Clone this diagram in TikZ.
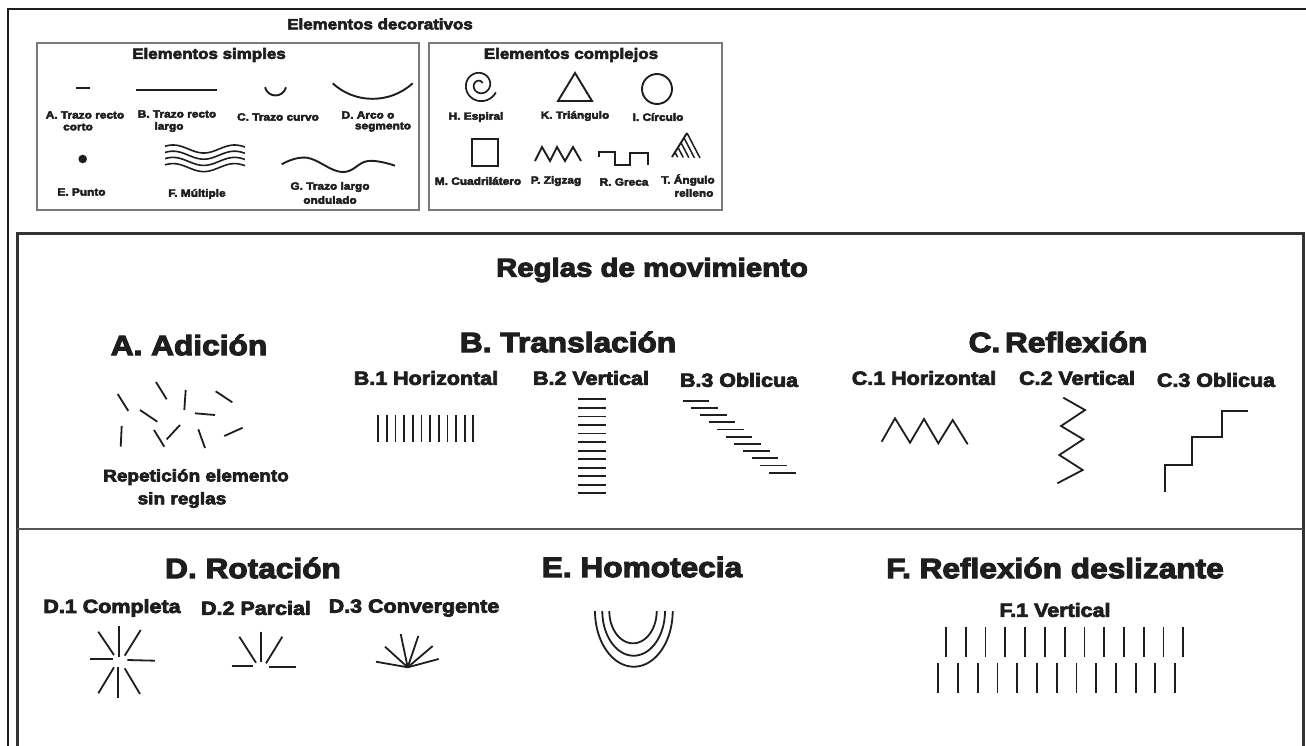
\documentclass[tikz,border=0pt]{standalone}
\usepackage{fontspec}
\newfontfamily\hb{Liberation Sans Bold}[FakeStretch=1.13,FakeBold=4]
\definecolor{ink}{HTML}{1E1E1E}
\definecolor{boxgray}{HTML}{7A7A7A}
\definecolor{framegray}{HTML}{333333}
\tikzset{
  sm/.style={font={\hb\fontsize{10.5}{12}\selectfont}, inner sep=0pt, text=ink},
  ttl/.style={font={\hb\fontsize{15}{17}\selectfont}, inner sep=0pt, text=ink},
  hd/.style={font={\hb\fontsize{28}{32}\selectfont}, inner sep=0pt, text=ink},
  sub/.style={font={\hb\fontsize{19}{22}\selectfont}, inner sep=0pt, text=ink},
  rep/.style={font={\hb\fontsize{16.8}{20}\selectfont}, inner sep=0pt, text=ink},
  stroke/.style={draw=ink, line width=1.9pt},
  fine/.style={draw=ink, line width=1.8pt},
  boxline/.style={draw=boxgray, line width=1.6pt},
}
\begin{document}
\begin{tikzpicture}[x=1pt,y=-1pt]
\useasboundingbox (0,0) rectangle (1306,745);
\fill[white] (0,0) rectangle (1306,745);
% outer frame
\draw[ink, line width=1.5pt] (8,760) -- (8,9) -- (1320,9);
% top boxes
\draw[boxline] (37,43) rectangle (419,210);
\draw[boxline] (429,43) rectangle (722,210);
\node[ttl] (tdec) at (380,24) {Elementos decorativos};
\node[ttl] (tsim) at (209,55) {Elementos simples};
\node[ttl] (tcom) at (571,55) {Elementos complejos};
% simple elements
\draw[stroke] (76,88.3) -- (90,88.3);
\draw[stroke] (136,90) -- (217.3,90);
\draw[stroke] (265,87.3) .. controls (268,98.2) and (283,98.2) .. (286,87.3);
\draw[stroke] (332.7,83.3) .. controls (355,104) and (390,104) .. (412.7,83.3);
\fill[ink] (82.7,159) circle[radius=4.3pt];
\foreach \k in {0,1,2,3}{
  \draw[stroke, line width=1.6pt] plot[domain=0:1, samples=50, variable=\t] ({165+80*\t},{149+6.2*\k-4*cos(360*(\t-0.1)*1.3)});
}
\draw[stroke] plot[smooth, tension=0.7] coordinates {(281.7,164.3) (306.7,157.7) (342,172) (368,161) (395,165.7)};
\node[sm] (la1) at (85,115) {A. Trazo recto};
\node[sm] (la2) at (78,127) {corto};
\node[sm] (lb1) at (177,114) {B. Trazo recto};
\node[sm] (lb2) at (169,127) {largo};
\node[sm] (lc) at (278,117) {C. Trazo curvo};
\node[sm] (ld1) at (368,115) {D. Arco o};
\node[sm] (ld2) at (383,127) {segmento};
\node[sm] (le) at (81.5,192) {E. Punto};
\node[sm] (lf) at (197,194) {F. Múltiple};
\node[sm] (lg1) at (330,187) {G. Trazo largo};
\node[sm] (lg2) at (330,200) {ondulado};
% complex elements
\draw[stroke, line width=1.7pt] plot[domain=0:1, samples=150, variable=\t] ({480+(3+14.5*\t)*cos(24+660*(1-\t))},{85+(3+14.5*\t)*sin(24+660*(1-\t))});
\draw[stroke] (575,73) -- (558,101) -- (592,101) -- cycle;
\draw[stroke] (657,89) circle[radius=15pt];
\draw[stroke] (472,139) rectangle (498,166);
\draw[stroke] (535,161) -- (542,147) -- (550,161) -- (557,147) -- (565,161) -- (573,147) -- (581,161);
\draw[stroke] (599,157) -- (599,152) -- (615,152) -- (615,165) -- (630,165) -- (630,153) -- (648,153) -- (648,165);
\draw[stroke] (687,133) -- (672,157);
\foreach \k in {0,1,2,3,4}{
  \draw[stroke, line width=1.5pt] ({687-15*\k/5},{133+24*\k/5}) -- ({687-15*\k/5+13*(1-\k/5)},{133+24*\k/5+25*(1-\k/5)});
}
\node[sm] (lh) at (476,117) {H. Espiral};
\node[sm] (lk) at (575,116) {K. Triángulo};
\node[sm] (li) at (658,117) {I. Círculo};
\node[sm] (lm) at (478,181) {M. Cuadrilátero};
\node[sm] (lp) at (556,181) {P. Zigzag};
\node[sm] (lr) at (624,182) {R. Greca};
\node[sm] (lt1) at (688,180) {T. Ángulo};
\node[sm] (lt2) at (694,193) {relleno};
% main frame
\draw[framegray, line width=3pt] (17,780) -- (17,233) -- (1303,233) -- (1303,780);
\draw[ink!75, line width=1.6pt] (17,529) -- (1303,529);
\node[hd, font={\hb\fontsize{26}{30}\selectfont}] (reg) at (652,270) {Reglas de movimiento};
% A. Adicion
\node[hd] (ha) at (189,345) {A. Adición};
\draw[fine] (117.7,394) -- (128.3,411);
\draw[fine] (156,382) -- (166.7,399.3);
\draw[fine] (185.7,390) -- (184.3,410);
\draw[fine] (215.7,391.3) -- (232.3,402.3);
\draw[fine] (140,410) -- (157.3,421.7);
\draw[fine] (195,413.3) -- (215,415);
\draw[fine] (121.7,426) -- (120.7,446.7);
\draw[fine] (154,430) -- (164.3,446.7);
\draw[fine] (180,425) -- (166.7,439.3);
\draw[fine] (198.3,429.3) -- (205,448);
\draw[fine] (224.3,436) -- (242.7,427.7);
\node[rep] (rep1) at (196,477) {Repetición elemento};
\node[rep] (rep2) at (182,500) {sin reglas};
% B. Translacion
\node[hd] (hb) at (568,342) {B. Translación};
\node[sub] (b1) at (426,378) {B.1 Horizontal};
\node[sub] (b2) at (591,378) {B.2 Vertical};
\node[sub] (b3) at (739,380) {B.3 Oblicua};
\foreach \i in {0,...,11}{ \draw[fine] ({378.3+8.64*\i},415) -- ({378.3+8.64*\i},441.7); }
\foreach \i in {0,...,11}{ \draw[fine] (578.3,{399.3+8.55*\i}) -- (605.7,{399.3+8.55*\i}); }
\foreach \i in {0,...,10}{ \draw[fine] ({682.7+8.63*\i},{400.7+7.2*\i}) -- ({709.3+8.63*\i},{400.7+7.2*\i}); }
% C. Reflexion
\node[hd] (hc) at (1058,342) {C.\,Reflexión};
\node[sub] (c1) at (924,378) {C.1 Horizontal};
\node[sub] (c2) at (1077,378) {C.2 Vertical};
\node[sub] (c3) at (1216,380) {C.3 Oblicua};
\draw[fine] (881.7,441.7) -- (895,418.3) -- (910,442.7) -- (924,419) -- (938.3,443.3) -- (952.7,420) -- (967.7,444.3);
\draw[fine] (1063.3,397.7) -- (1085,410) -- (1061,426) -- (1083.3,439.3) -- (1059.3,455) -- (1082.7,470) -- (1057.3,483.3);
\draw[fine] (1165,491.7) -- (1165,465) -- (1192.3,465) -- (1192.3,436.7) -- (1221.7,436.7) -- (1221.7,410.7) -- (1248.3,410.7);
% D. Rotacion
\node[hd] (hd) at (253,568) {D. Rotación};
\node[sub] (d1) at (112,608) {D.1 Completa};
\node[sub] (d2) at (256,608) {D.2 Parcial};
\node[sub] (d3) at (414,608) {D.3 Convergente};
\draw[fine] (119.3,626) -- (119.3,656.7);
\draw[fine] (98.3,631.7) -- (114,655);
\draw[fine] (140.7,630) -- (124.7,655.7);
\draw[fine] (90,659) -- (112.7,659);
\draw[fine] (127.3,660) -- (155,660.7);
\draw[fine] (98.3,693.3) -- (114,667.3);
\draw[fine] (118.3,666.7) -- (118.3,698.3);
\draw[fine] (140,694) -- (124.7,668.3);
\draw[fine] (231.7,666) -- (253.3,666);
\draw[fine] (269,666.7) -- (295.7,666.7);
\draw[fine] (239.3,636.7) -- (256,662.7);
\draw[fine] (260.7,631.7) -- (260.7,661.7);
\draw[fine] (282.3,636.7) -- (266,663.3);
\coordinate (cv) at (407.7,667.3);
\foreach \p in {(376,661.7),(385,646.7),(400.7,634),(418.3,636),(432.7,646),(438.7,659)}{ \draw[fine] (cv) -- \p; }
% E. Homotecia
\node[hd] (he) at (642,567) {E. Homotecia};
\draw[fine] plot[domain=180:0, samples=60] ({633.85+38.85*cos(\x)},{611+55.7*sin(\x)});
\draw[fine] plot[domain=180:0, samples=60] ({633.65+31.35*cos(\x)},{611+44.7*sin(\x)});
\draw[fine] plot[domain=180:0, samples=60] ({633+23.7*cos(\x)},{611+32.3*sin(\x)});
% F. Reflexion deslizante
\node[hd] (hf) at (1055,568) {F. Reflexión deslizante};
\node[sub] (f1) at (1055,610) {F.1 Vertical};
\foreach \i in {0,...,12}{ \draw[fine] ({946+19.78*\i},626.7) -- ({946+19.78*\i},656.7); }
\foreach \i in {0,...,12}{ \draw[fine] ({938.3+19.73*\i},663.3) -- ({938.3+19.73*\i},693.3); }
\end{tikzpicture}
\end{document}
